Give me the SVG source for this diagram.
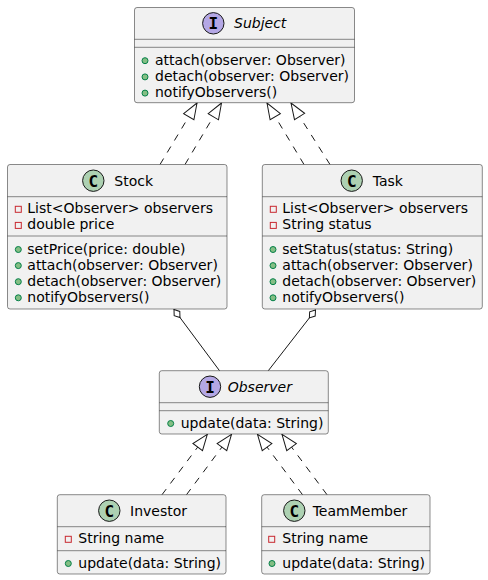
<svg xmlns="http://www.w3.org/2000/svg" width="488" height="580" viewBox="0 0 488 580">
<style>
.box{fill:#F1F1F1;stroke:#181818;stroke-width:0.5}
.sep{stroke:#181818;stroke-width:0.5}
.t{font-family:"DejaVu Sans","Liberation Sans",sans-serif;font-size:14px;fill:#000}
.it{font-style:italic}
.ci{fill:#B4A7E5;stroke:#181818;stroke-width:1}
.cc{fill:#ADD1B2;stroke:#181818;stroke-width:1}
.lt{font-family:"DejaVu Sans Mono","Liberation Mono",monospace;font-size:16px;font-weight:bold;fill:#000;text-anchor:middle}
.pub{fill:#84BE84;stroke:#038048;stroke-width:1}
.priv{fill:none;stroke:#C82930;stroke-width:1}
.dash{fill:none;stroke:#181818;stroke-width:1;stroke-dasharray:7,7;marker-end:url(#ext)}
.agg{fill:none;stroke:#181818;stroke-width:1;marker-start:url(#dia)}
</style>
<defs>
<marker id="ext" markerUnits="userSpaceOnUse" markerWidth="20" markerHeight="16" viewBox="-1 -1 20 16" refX="16" refY="6.5" orient="auto">
<path d="M16,6.5 L0,0.5 L0,12.5 Z" fill="#FFFFFF" stroke="#181818" stroke-width="1" stroke-dasharray="none"/>
</marker>
<marker id="dia" markerUnits="userSpaceOnUse" markerWidth="14" markerHeight="10" viewBox="-1 -1 14 10" refX="0" refY="3.5" orient="auto">
<path d="M0,3.5 L5,0 L10,3.5 L5,7 Z" fill="#FFFFFF" stroke="#181818" stroke-width="1"/>
</marker>
</defs>

<g id="connectors">
<line class="dash" x1="160" y1="164.5" x2="197" y2="103"/>
<line class="dash" x1="185" y1="164.5" x2="221.5" y2="103"/>
<line class="dash" x1="304" y1="164.5" x2="267" y2="103"/>
<line class="dash" x1="330" y1="164.5" x2="291" y2="103"/>
<line class="dash" x1="162" y1="494.7" x2="207.3" y2="434.3"/>
<line class="dash" x1="186.5" y1="494.7" x2="231.5" y2="434.3"/>
<line class="dash" x1="302.5" y1="494.7" x2="257.5" y2="434.3"/>
<line class="dash" x1="327" y1="494.7" x2="282" y2="434.3"/>
<line class="agg" x1="174" y1="309.5" x2="219.5" y2="370.7"/>
<line class="agg" x1="315.5" y1="310" x2="268.3" y2="370.7"/>
</g>

<g id="Subject">
<rect class="box" x="134.5" y="7.5" width="220" height="95.2" rx="2.5"/>
<line class="sep" x1="134.5" y1="39.3" x2="354.5" y2="39.3"/>
<line class="sep" x1="134.5" y1="47.3" x2="354.5" y2="47.3"/>
<circle class="ci" cx="213.3" cy="23.3" r="10.7"/>
<text class="lt" x="213.3" y="29.1">I</text>
<text class="t it" x="234" y="28">Subject</text>
<circle class="pub" cx="145" cy="60.7" r="3"/>
<text class="t" x="155" y="64.7">attach(observer: Observer)</text>
<circle class="pub" cx="145" cy="76.9" r="3"/>
<text class="t" x="155" y="80.9">detach(observer: Observer)</text>
<circle class="pub" cx="145" cy="93.1" r="3"/>
<text class="t" x="155" y="97.1">notifyObservers()</text>
</g>

<g id="Stock">
<rect class="box" x="7.5" y="164.5" width="219.5" height="144.5" rx="2.5"/>
<line class="sep" x1="7.5" y1="196.7" x2="227" y2="196.7"/>
<line class="sep" x1="7.5" y1="236" x2="227" y2="236"/>
<circle class="cc" cx="93.3" cy="180.7" r="10.7"/>
<text class="lt" x="93.3" y="186.5">C</text>
<text class="t" x="114.3" y="185.5">Stock</text>
<rect class="priv" x="15.3" y="206.3" width="6" height="6"/>
<text class="t" x="27.3" y="213.3">List&lt;Observer&gt; observers</text>
<rect class="priv" x="15.3" y="222.4" width="6" height="6"/>
<text class="t" x="27.3" y="229.4">double price</text>
<circle class="pub" cx="18.3" cy="249.5" r="3"/>
<text class="t" x="27.3" y="253.5">setPrice(price: double)</text>
<circle class="pub" cx="18.3" cy="265.6" r="3"/>
<text class="t" x="27.3" y="269.6">attach(observer: Observer)</text>
<circle class="pub" cx="18.3" cy="281.7" r="3"/>
<text class="t" x="27.3" y="285.7">detach(observer: Observer)</text>
<circle class="pub" cx="18.3" cy="297.8" r="3"/>
<text class="t" x="27.3" y="301.8">notifyObservers()</text>
</g>

<g id="Task">
<rect class="box" x="262.3" y="164.5" width="220" height="144.5" rx="2.5"/>
<line class="sep" x1="262.3" y1="196.7" x2="482.3" y2="196.7"/>
<line class="sep" x1="262.3" y1="236" x2="482.3" y2="236"/>
<circle class="cc" cx="351.7" cy="180.7" r="10.7"/>
<text class="lt" x="351.7" y="186.5">C</text>
<text class="t" x="372.7" y="185.5">Task</text>
<rect class="priv" x="270.3" y="206.3" width="6" height="6"/>
<text class="t" x="282.3" y="213.3">List&lt;Observer&gt; observers</text>
<rect class="priv" x="270.3" y="222.4" width="6" height="6"/>
<text class="t" x="282.3" y="229.4">String status</text>
<circle class="pub" cx="273" cy="249.5" r="3"/>
<text class="t" x="282.3" y="253.5">setStatus(status: String)</text>
<circle class="pub" cx="273" cy="265.6" r="3"/>
<text class="t" x="282.3" y="269.6">attach(observer: Observer)</text>
<circle class="pub" cx="273" cy="281.7" r="3"/>
<text class="t" x="282.3" y="285.7">detach(observer: Observer)</text>
<circle class="pub" cx="273" cy="297.8" r="3"/>
<text class="t" x="282.3" y="301.8">notifyObservers()</text>
</g>

<g id="Observer">
<rect class="box" x="159.3" y="370.7" width="169" height="63.3" rx="2.5"/>
<line class="sep" x1="159.3" y1="402.7" x2="328.3" y2="402.7"/>
<line class="sep" x1="159.3" y1="410.7" x2="328.3" y2="410.7"/>
<circle class="ci" cx="210" cy="386.7" r="10.7"/>
<text class="lt" x="210" y="392.5">I</text>
<text class="t it" x="227.7" y="391.5">Observer</text>
<circle class="pub" cx="170.7" cy="423.5" r="3"/>
<text class="t" x="180.7" y="427.5">update(data: String)</text>
</g>

<g id="Investor">
<rect class="box" x="57.3" y="494.7" width="168.7" height="79.3" rx="2.5"/>
<line class="sep" x1="57.3" y1="526.7" x2="226" y2="526.7"/>
<line class="sep" x1="57.3" y1="550.7" x2="226" y2="550.7"/>
<circle class="cc" cx="109.3" cy="510.7" r="10.7"/>
<text class="lt" x="109.3" y="516.5">C</text>
<text class="t" x="130" y="515.5">Investor</text>
<rect class="priv" x="65.3" y="536.3" width="6" height="6"/>
<text class="t" x="78.3" y="543.3">String name</text>
<circle class="pub" cx="68.3" cy="563.5" r="3"/>
<text class="t" x="78.3" y="567.5">update(data: String)</text>
</g>

<g id="TeamMember">
<rect class="box" x="261.7" y="494.7" width="168.3" height="79.3" rx="2.5"/>
<line class="sep" x1="261.7" y1="526.7" x2="430" y2="526.7"/>
<line class="sep" x1="261.7" y1="550.7" x2="430" y2="550.7"/>
<circle class="cc" cx="294.3" cy="510.7" r="10.7"/>
<text class="lt" x="294.3" y="516.5">C</text>
<text class="t" x="312.7" y="515.5">TeamMember</text>
<rect class="priv" x="268.7" y="536.3" width="6" height="6"/>
<text class="t" x="282.3" y="543.3">String name</text>
<circle class="pub" cx="272" cy="563.5" r="3"/>
<text class="t" x="282.3" y="567.5">update(data: String)</text>
</g>
</svg>
